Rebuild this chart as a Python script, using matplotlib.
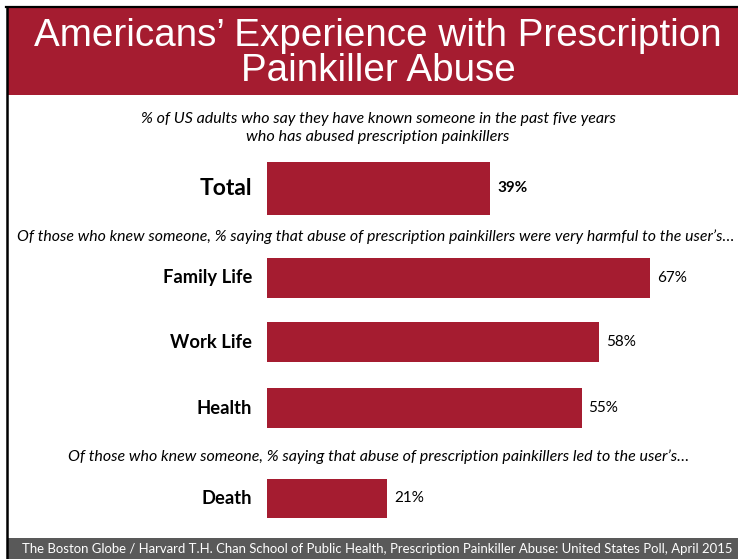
import matplotlib
matplotlib.use("Agg")
import matplotlib.pyplot as plt
from matplotlib.patches import Rectangle
from matplotlib.lines import Line2D

W, H = 738, 559
CRIMSON = "#A51C30"
FOOTER_GREY = "#595959"
BODY_FONT = ["Lato", "DejaVu Sans"]
TITLE_FONT = ["Liberation Sans Narrow", "Liberation Sans", "DejaVu Sans"]

# ---- data -------------------------------------------------------------
categories = ["Total", "Family Life", "Work Life", "Health", "Death"]
values = [39, 67, 58, 55, 21]
value_bold = [True, False, False, False, False]

title_lines = ["Americans’ Experience with Prescription", "Painkiller Abuse"]
subtitle_lines = [
    "% of US adults who say they have known someone in the past five years",
    "who has abused prescription painkillers",
]
harm_note = ("Of those who knew someone, % saying that abuse of prescription "
             "painkillers were very harmful to the user’s…")
death_note = ("Of those who knew someone, % saying that abuse of prescription "
              "painkillers led to the user’s…")
source = ("The Boston Globe / Harvard T.H. Chan School of Public Health, "
          "Prescription Painkiller Abuse: United States Poll, April 2015")

# ---- layout (pixel units, y measured from the top) ---------------------
bar_centers = [188.5, 278, 342, 408, 498.5]
bar_heights = [53, 40, 40, 40, 39]
bar_left_px = 267
px_per_pct = 5.72

fig = plt.figure(figsize=(W / 100, H / 100), dpi=100)
fig.patch.set_facecolor("white")
renderer = fig.canvas.get_renderer()


def fx(x):
    return x / W


def fy(y):
    return 1 - y / H


def fitted_text(x, y, s, width, color="black", ha="center", **kw):
    """Place text and scale its size so that it spans the given pixel width."""
    t = fig.text(fx(x), fy(y), s, ha=ha, va="center", color=color,
                 fontsize=12, **kw)
    w = t.get_window_extent(renderer).width
    t.set_fontsize(12 * width / w)
    return t


# banner, frame and footer
fig.add_artist(Rectangle((fx(8), fy(95)), fx(W) - fx(8), fy(8) - fy(95),
                         transform=fig.transFigure, color=CRIMSON, lw=0))
fig.add_artist(Rectangle((fx(8), fy(H)), fx(W) - fx(8), fy(538) - fy(H),
                         transform=fig.transFigure, color=FOOTER_GREY, lw=0))
fig.add_artist(Line2D([fx(7), fx(7)], [fy(7), fy(H)],
                      transform=fig.transFigure, color="black", lw=1.8))
fig.add_artist(Line2D([fx(6), fx(W)], [fy(7), fy(7)],
                      transform=fig.transFigure, color="black", lw=1.6))

# title: both lines share the size of the first
t1 = fitted_text(378, 36, title_lines[0], 688, color="white", family=TITLE_FONT)
fig.text(fx(378), fy(71), title_lines[1], ha="center", va="center",
         color="white", fontsize=t1.get_fontsize(), family=TITLE_FONT)

# notes
fitted_text(378, 119, subtitle_lines[0], 476, style="italic", family=BODY_FONT)
fitted_text(378, 137, subtitle_lines[1], 262, style="italic", family=BODY_FONT)
fitted_text(376, 237, harm_note, 716, style="italic", family=BODY_FONT)
fitted_text(379, 457, death_note, 618, style="italic", family=BODY_FONT)
fitted_text(377, 549, source, 710, color="white", family=BODY_FONT)

# bars
ax = fig.add_axes([fx(bar_left_px), 0, 1 - fx(bar_left_px), 1])
ax.set_xlim(0, (W - bar_left_px) / px_per_pct)
ax.set_ylim(H, 0)
ax.axis("off")
ax.barh(bar_centers, values, height=bar_heights, color=CRIMSON, lw=0)

for cat, val, yc, bold in zip(categories, values, bar_centers, value_bold):
    big = cat == "Total"
    ax.annotate(cat, xy=(0, yc), xytext=(-15, 0), textcoords="offset pixels",
                ha="right", va="center", fontweight="bold",
                fontsize=16.5 if big else 13.2, family=BODY_FONT)
    ax.annotate(f"{val}%", xy=(val, yc), xytext=(7, 0),
                textcoords="offset pixels", ha="left", va="center",
                fontweight="bold" if bold else "normal",
                fontsize=11, family=BODY_FONT)

fig.savefig("out.png", dpi=100, facecolor="white")
